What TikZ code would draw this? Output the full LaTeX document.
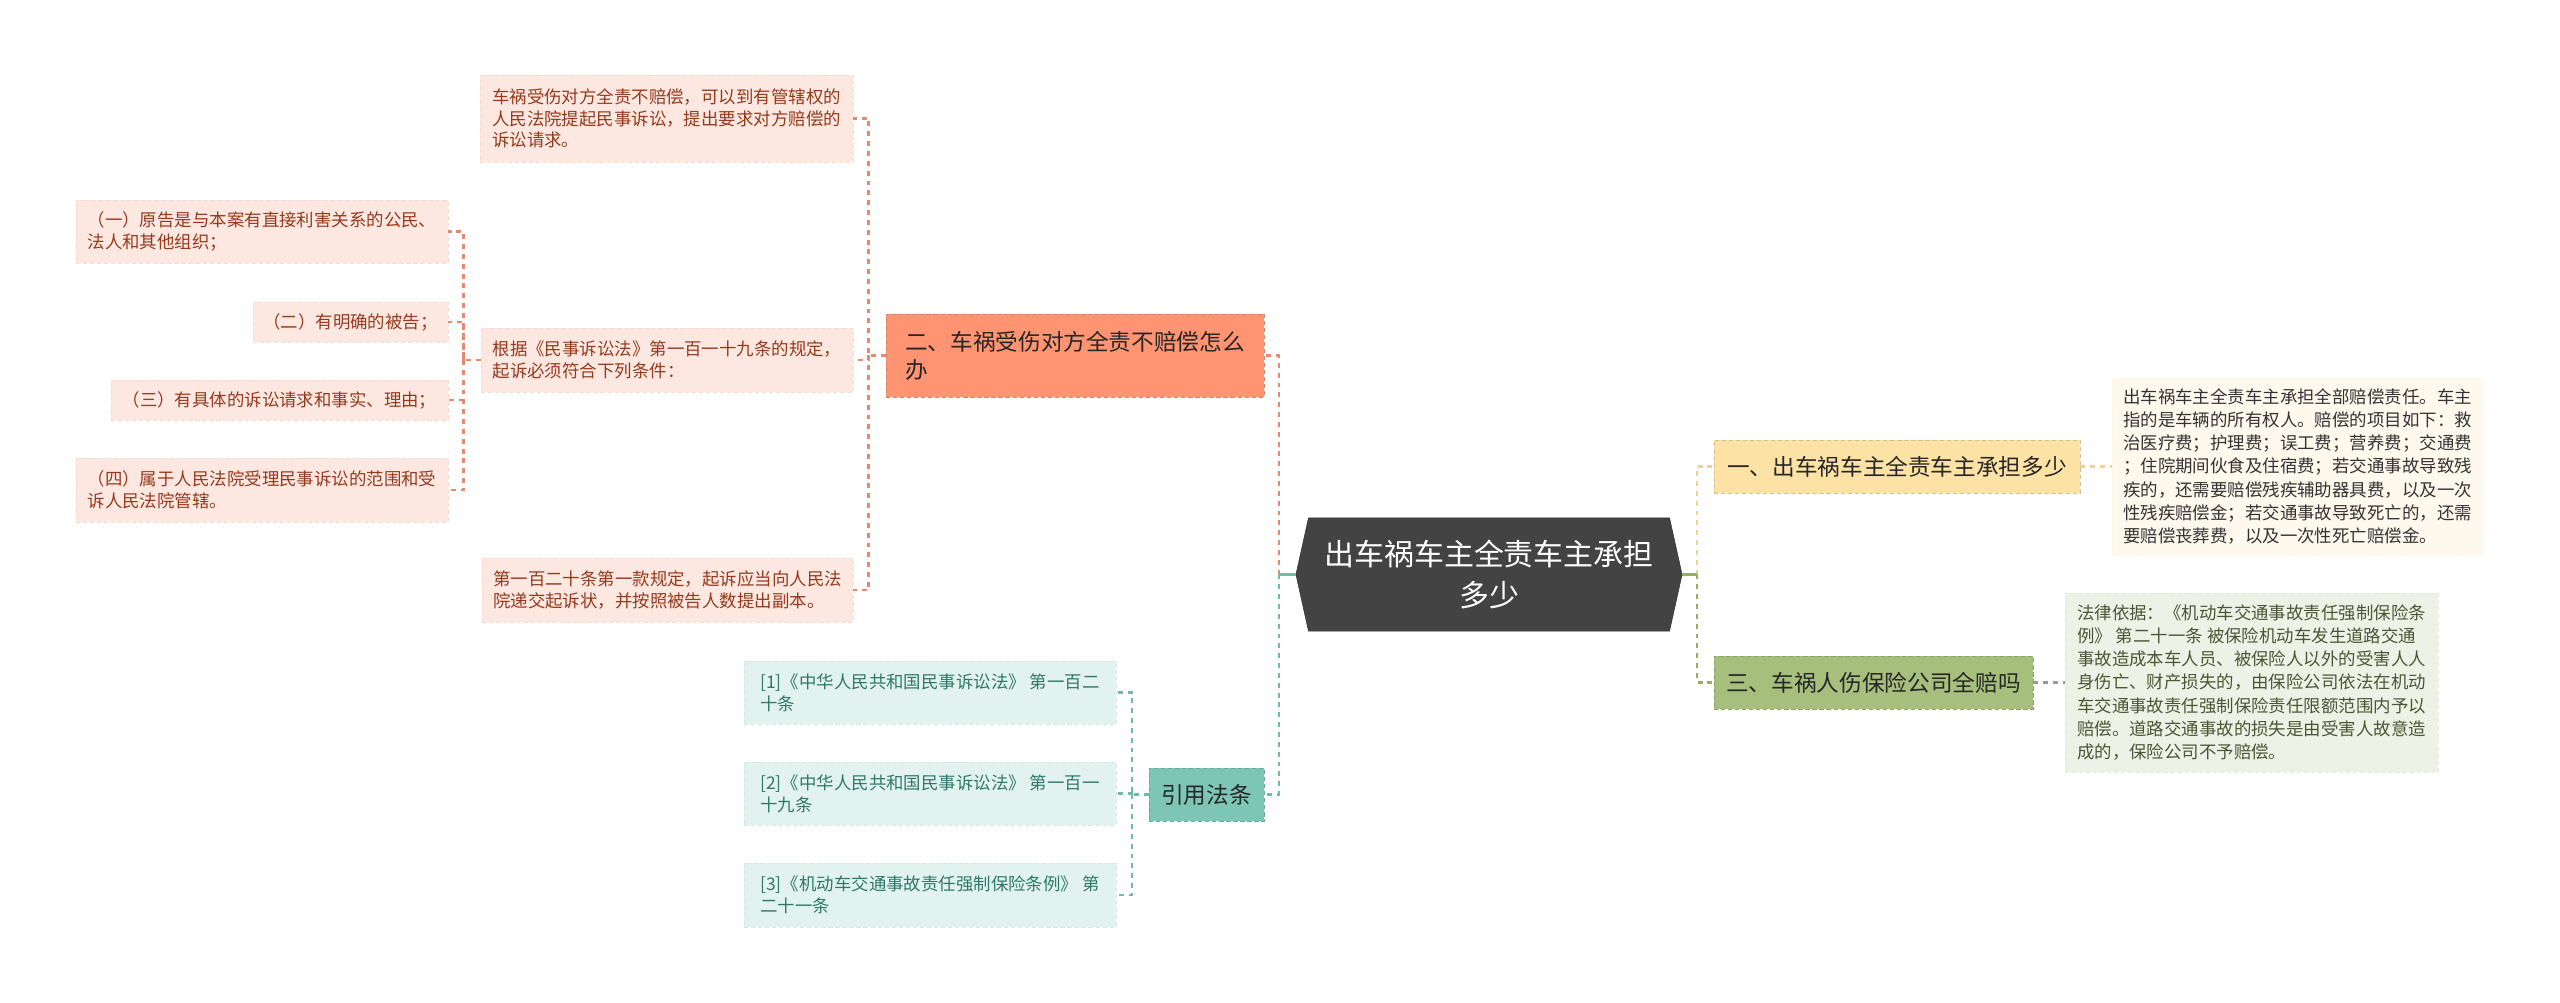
\documentclass[tikz,border=0pt]{standalone}
\usepackage{fontspec}
\newfontfamily\cjk{Noto Sans CJK SC}
\usetikzlibrary{shapes.symbols}

\definecolor{rootgray}{HTML}{434343}
\definecolor{redfill}{HTML}{FF9472}
\definecolor{redline}{HTML}{E48A6E}
\definecolor{redleaf}{HTML}{FDE8E1}
\definecolor{redtext}{HTML}{96391C}
\definecolor{tealfill}{HTML}{7DC6B6}
\definecolor{tealline}{HTML}{6FBAA9}
\definecolor{tealleaf}{HTML}{E2F3EF}
\definecolor{tealtext}{HTML}{2F7868}
\definecolor{yellowfill}{HTML}{FDE2A6}
\definecolor{yellowline}{HTML}{F0D28E}
\definecolor{yellowleaf}{HTML}{FDFAED}
\definecolor{greenfill}{HTML}{A6BF7D}
\definecolor{greenline}{HTML}{93AF66}
\definecolor{greenleaf}{HTML}{EEF1E5}
\definecolor{greentext}{HTML}{4B5636}

\begin{document}
\begin{tikzpicture}[
    x = 0.025cm, y = -0.025cm,
    topic/.style = {
        shape = signal, signal to = west and east, signal pointer angle = 155,
        minimum width = 9.65cm, minimum height = 2.825cm,
        draw = black!80, fill = rootgray, text = white, align = center,
        font = \cjk\fontsize{21.3}{28.5}\selectfont
    },
    branch/.style = {
        rectangle, dashed, line width = 0.6pt, dash pattern = on 3pt off 2pt,
        minimum height = 1.325cm, inner xsep = 0.3cm, align = left,
        text = black!85, font = \cjk\fontsize{16.1}{20}\selectfont
    },
    leaf/.style = {
        rectangle, line width = 0.6pt, dash pattern = on 3pt off 2pt,
        inner xsep = 0.25cm, align = left,
        font = \cjk\fontsize{12.4}{15.4}\selectfont
    },
    redleafbox/.style    = {leaf, fill = redleaf, draw = redleaf!85!redline, text = redtext},
    tealleafbox/.style   = {leaf, fill = tealleaf, draw = tealleaf!85!tealline, text = tealtext},
    notebox/.style       = {leaf, font = \cjk\fontsize{12.4}{16.4}\selectfont},
    link/.style = {line width = 1.5pt, dash pattern = on 3.5pt off 3.5pt}
]

\useasboundingbox (0,0) rectangle (2560,1003);

% --- Central topic ---
\node[topic] (root) at (1489, 574.5) {出车祸车主全责车主承担\\多少};

% --- Left: branch two and its children ---
\node[branch, fill = redfill, draw = redfill!80!black!90, minimum width = 9.45cm,
      minimum height = 2.075cm] (two) at (1075, 355.5)
      {二、车祸受伤对方全责不赔偿怎么\\办};

\node[redleafbox, minimum width = 9.325cm, minimum height = 2.175cm] (rA) at (666.5, 118.5)
      {车祸受伤对方全责不赔偿，可以到有管辖权的\\人民法院提起民事诉讼，提出要求对方赔偿的\\诉讼请求。};
\node[redleafbox, minimum width = 9.3cm, minimum height = 1.6cm] (rB) at (667, 360)
      {根据《民事诉讼法》第一百一十九条的规定，\\起诉必须符合下列条件：};
\node[redleafbox, minimum width = 9.275cm, minimum height = 1.6cm] (rC) at (667.5, 590)
      {第一百二十条第一款规定，起诉应当向人民法\\院递交起诉状，并按照被告人数提出副本。};

\node[redleafbox, minimum width = 9.3cm, minimum height = 1.575cm] (c1) at (262, 231.5)
      {（一）原告是与本案有直接利害关系的公民、\\法人和其他组织；};
\node[redleafbox, minimum width = 4.875cm, minimum height = 1cm] (c2) at (350.5, 322)
      {（二）有明确的被告；};
\node[redleafbox, minimum width = 8.425cm, minimum height = 1cm] (c3) at (279.5, 400)
      {（三）有具体的诉讼请求和事实、理由；};
\node[redleafbox, minimum width = 9.3cm, minimum height = 1.6cm] (c4) at (262, 490)
      {（四）属于人民法院受理民事诉讼的范围和受\\诉人民法院管辖。};

% --- Left: cited laws ---
\node[branch, fill = tealfill, draw = tealfill!85!black, minimum width = 2.875cm] (cite) at (1206.5, 794.5)
      {引用法条};

\node[tealleafbox, minimum width = 9.3cm, minimum height = 1.575cm] (law1) at (930, 692.5)
      {[1]《中华人民共和国民事诉讼法》 第一百二\\十条};
\node[tealleafbox, minimum width = 9.3cm, minimum height = 1.575cm] (law2) at (930, 793.5)
      {[2]《中华人民共和国民事诉讼法》 第一百一\\十九条};
\node[tealleafbox, minimum width = 9.3cm, minimum height = 1.6cm] (law3) at (930, 895)
      {[3]《机动车交通事故责任强制保险条例》 第\\二十一条};

% --- Right: branches one and three with their notes ---
\node[branch, fill = yellowfill, draw = yellowfill!85!black, minimum width = 9.15cm] (one) at (1897, 466.5)
      {一、出车祸车主全责车主承担多少};
\node[branch, fill = greenfill, draw = greenfill!85!black, minimum width = 7.975cm] (three) at (1873.5, 682.5)
      {三、车祸人伤保险公司全赔吗};

\node[notebox, fill = yellowleaf, draw = yellowleaf!90!yellowline, text = black!80,
      minimum width = 9.275cm, minimum height = 4.425cm] (note1) at (2297.5, 466.5)
      {出车祸车主全责车主承担全部赔偿责任。车主\\指的是车辆的所有权人。赔偿的项目如下：救\\治医疗费；护理费；误工费；营养费；交通费\\；住院期间伙食及住宿费；若交通事故导致残\\疾的，还需要赔偿残疾辅助器具费，以及一次\\性残疾赔偿金；若交通事故导致死亡的，还需\\要赔偿丧葬费，以及一次性死亡赔偿金。};
\node[notebox, fill = greenleaf, draw = greenleaf!90!greenline, text = greentext,
      minimum width = 9.325cm, minimum height = 4.475cm] (note2) at (2251.5, 682.5)
      {法律依据：《机动车交通事故责任强制保险条\\例》 第二十一条 被保险机动车发生道路交通\\事故造成本车人员、被保险人以外的受害人人\\身伤亡、财产损失的，由保险公司依法在机动\\车交通事故责任强制保险责任限额范围内予以\\赔偿。道路交通事故的损失是由受害人故意造\\成的，保险公司不予赔偿。};

% --- Hubs ---
\path (root.west) ++(-17,0) coordinate (lhub);
\path (root.east) ++(15,0)  coordinate (rhub);
\path (two.west)  ++(-17,0) coordinate (twohub);
\path (rB.west)   ++(-17,0) coordinate (bhub);
\path (cite.west) ++(-17,0) coordinate (citehub);

% --- Connectors ---
\draw[link, redline] (lhub) |- (two.east);
\draw[link, tealline] (lhub) |- (cite.east);
\draw[tealline, line width = 1.5pt] (root.west) -- (lhub);

\draw[link, redline] (two.west) -- (twohub) |- (rA.east);
\draw[link, redline] (twohub) |- (rB.east);
\draw[link, redline] (twohub) |- (rC.east);

\draw[link, redline] (rB.west) -- (bhub) |- (c1.east);
\draw[link, redline] (bhub) |- (c2.east);
\draw[link, redline] (bhub) |- (c3.east);
\draw[link, redline] (bhub) |- (c4.east);

\draw[link, tealline] (cite.west) -- (citehub) |- (law1.east);
\draw[link, tealline] (citehub) |- (law2.east);
\draw[link, tealline] (citehub) |- (law3.east);

\draw[link, yellowline] (rhub) |- (one.west);
\draw[link, greenline] (rhub) |- (three.west);
\draw[greenline, line width = 1.5pt] (root.east) -- (rhub);

\draw[link, yellowline] (one.east) -- (note1.west);
\draw[link, black!40] (three.east) -- (note2.west);

\end{tikzpicture}
\end{document}
